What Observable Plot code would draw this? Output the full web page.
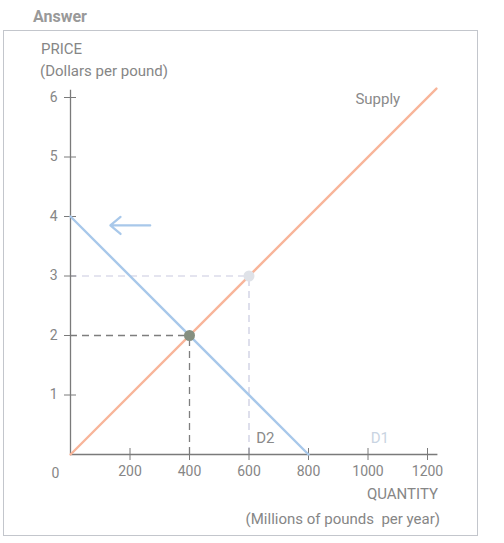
<!DOCTYPE html>
<html>
<head>
<meta charset="utf-8">
<script src="https://cdn.jsdelivr.net/npm/d3@7"></script>
<script src="https://cdn.jsdelivr.net/npm/@observablehq/plot@0.6"></script>
<style>
  html, body { margin: 0; padding: 0; background: #fff; }
  #wrap { position: relative; width: 504px; height: 543px; font-family: Roboto, "Noto Sans", sans-serif; color: #868686; overflow: hidden; }
  #box { position: absolute; left: 3px; top: 30px; width: 473px; height: 504px; border: 1.5px solid #c3c6cc; }
  .t { position: absolute; white-space: nowrap; font-size: 15px; line-height: 1; }
  #chart { position: absolute; left: 0; top: 0; }
</style>
</head>
<body>
<div id="wrap">
  <div id="box"></div>
  <div class="t" style="left:33px;top:9px;font-weight:bold;font-size:16px;color:#999;">Answer</div>
  <div class="t" style="left:41px;top:42px;">PRICE</div>
  <div class="t" style="left:40px;top:64px;">(Dollars per pound)</div>
  <div class="t" style="right:66px;top:487px;">QUANTITY</div>
  <div class="t" style="right:64px;top:512px;">(Millions of pounds&nbsp; per year)</div>
  <div id="chart"></div>
</div>
<script>
// Data
const xTicks = [200, 400, 600, 800, 1000, 1200];
const yTicks = [1, 2, 3, 4, 5, 6];
const supplyQ = [0, 1230];
const supplyP = [0, 6.15];
const demandQ = [0, 800];
const demandP = [4, 0];
const newEq = {q: 400, p: 2};
const oldEq = {q: 600, p: 3};
const shiftArrow = {q1: 268, q2: 134, p: 3.85};
const labels = [
  {q: 1033, p: 5.97, text: "Supply", color: "#8a8a8a", anchor: "middle"},
  {q: 655, p: 0.27, text: "D2", color: "#8a8a8a", anchor: "start"},
  {q: 1040, p: 0.27, text: "D1", color: "#c9d4e2", anchor: "middle"}
];

const supply = supplyQ.map((q, i) => ({q, p: supplyP[i]}));
const demand = demandQ.map((q, i) => ({q, p: demandP[i]}));

const axisColor = "#868686";

const chart = Plot.plot({
  width: 504,
  height: 543,
  marginLeft: 70,
  marginRight: 77,
  marginTop: 97,
  marginBottom: 89,
  style: {background: "transparent", overflow: "visible", fontFamily: "Roboto, 'Noto Sans', sans-serif", fontSize: "14px", color: axisColor},
  x: {domain: [0, 1200]},
  y: {domain: [0, 6]},
  marks: [
    // light dashed guides to old equilibrium
    Plot.ruleY([oldEq], {y: "p", x1: 0, x2: "q", stroke: "#c9cadf", strokeWidth: 1.2, strokeDasharray: "7,5"}),
    Plot.ruleX([oldEq], {x: "q", y1: 0, y2: "p", stroke: "#c9cadf", strokeWidth: 1.2, strokeDasharray: "7,5"}),
    // dark dashed guides to new equilibrium
    Plot.ruleY([newEq], {y: "p", x1: 0, x2: "q", stroke: "#7e7e7e", strokeWidth: 1.3, strokeDasharray: "7,5"}),
    Plot.ruleX([newEq], {x: "q", y1: 0, y2: "p", stroke: "#7e7e7e", strokeWidth: 1.3, strokeDasharray: "7,5"}),
    // axes lines
    Plot.ruleX([0], {y1: 0, y2: 6.12, stroke: "#7a7a7a", strokeWidth: 1.3}),
    Plot.ruleY([0], {x1: 0, x2: 1235, stroke: "#7a7a7a", strokeWidth: 1.3}),
    // cross ticks
    Plot.axisY(yTicks, {tickSize: 12, dx: 6, tickPadding: 7, label: null, tickFormat: d => String(d), stroke: "#7a7a7a", fill: axisColor, fontSize: 14}),
    Plot.axisX(xTicks, {tickSize: 12, dy: -6, tickPadding: 6, label: null, tickFormat: d => String(d), stroke: "#7a7a7a", fill: axisColor, fontSize: 14}),
    Plot.text([0], {x: 0, y: 0, text: d => String(d), dx: -15, dy: 19, fill: axisColor, fontSize: 14}),
    // curves
    Plot.line(supply, {x: "q", y: "p", stroke: "#f8b59a", strokeWidth: 2.4}),
    Plot.line(demand, {x: "q", y: "p", stroke: "#a8c8ea", strokeWidth: 2.4}),
    // equilibrium points
    Plot.dot([oldEq], {x: "q", y: "p", r: 5.5, fill: "#dfe2e8"}),
    Plot.dot([newEq], {x: "q", y: "p", r: 5.5, fill: "#858f80"}),
    // shift arrow
    Plot.arrow([shiftArrow], {x1: "q1", x2: "q2", y1: "p", y2: "p", stroke: "#a8c8ea", strokeWidth: 2.2, headLength: 13, headAngle: 80}),
    // labels
    Plot.text(labels, {x: "q", y: "p", text: "text", fill: "color", textAnchor: "anchor", fontSize: 15})
  ]
});
document.getElementById("chart").appendChild(chart);
</script>
</body>
</html>
